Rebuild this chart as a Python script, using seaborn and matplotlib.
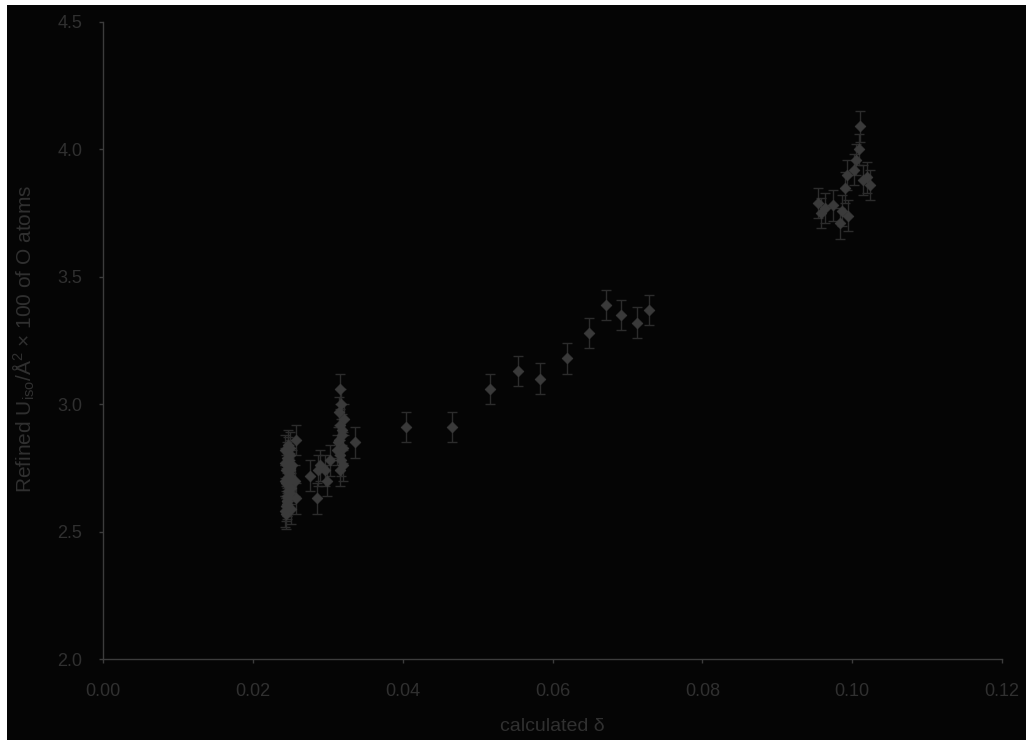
import matplotlib
matplotlib.use("Agg")
import matplotlib.pyplot as plt
import seaborn as sns
import pandas as pd
from matplotlib.patches import Rectangle

# calculated delta and refined U_iso (x100) of O atoms, with standard uncertainties
delta = [
    # dense group near 0.024-0.025
    0.0243, 0.0244, 0.0245, 0.0246, 0.0247, 0.0248, 0.0249, 0.0250, 0.0244, 0.0246,
    0.0248, 0.0250, 0.0243, 0.0245, 0.0247, 0.0249, 0.0251, 0.0244, 0.0246, 0.0248,
    0.0250, 0.0243, 0.0245, 0.0247, 0.0249, 0.0251, 0.0244, 0.0246, 0.0248, 0.0250,
    0.0243, 0.0247, 0.0252, 0.0258, 0.0256, 0.0257,
    # group near 0.027-0.030
    0.0276, 0.0286, 0.0287, 0.0296, 0.0299, 0.0290, 0.0303,
    # group near 0.031-0.034
    0.0316, 0.0318, 0.0315, 0.0317, 0.0319, 0.0314, 0.0320, 0.0316, 0.0318, 0.0321,
    0.0313, 0.0317, 0.0319, 0.0315, 0.0322, 0.0336,
    # intermediate points
    0.0405, 0.0466, 0.0516, 0.0554, 0.0583, 0.0619, 0.0649, 0.0672, 0.0692, 0.0713,
    0.0729,
    # high group near 0.096-0.102
    0.1011, 0.1009, 0.1005, 0.0993, 0.1015, 0.1024, 0.0991, 0.0955, 0.0964, 0.0975,
    0.0959, 0.0986, 0.0995, 0.0984, 0.1020, 0.1003,
]
u_iso = [
    2.58, 2.60, 2.62, 2.64, 2.66, 2.68, 2.70, 2.72, 2.74, 2.76,
    2.78, 2.80, 2.82, 2.61, 2.63, 2.65, 2.67, 2.69, 2.71, 2.73,
    2.75, 2.77, 2.79, 2.81, 2.83, 2.59, 2.57, 2.62, 2.68, 2.74,
    2.70, 2.84, 2.76, 2.86, 2.70, 2.63,
    2.72, 2.63, 2.74, 2.74, 2.70, 2.76, 2.78,
    3.06, 3.00, 2.97, 2.92, 2.88, 2.85, 2.83, 2.80, 2.78, 2.76,
    2.82, 2.74, 2.90, 2.86, 2.94, 2.85,
    2.91, 2.91, 3.06, 3.13, 3.10, 3.18, 3.28, 3.39, 3.35, 3.32,
    3.37,
    4.09, 4.00, 3.96, 3.90, 3.88, 3.86, 3.85, 3.79, 3.77, 3.78,
    3.75, 3.76, 3.74, 3.71, 3.89, 3.92,
]
u_err = [0.06] * len(delta)

x_ticks = [0.00, 0.02, 0.04, 0.06, 0.08, 0.10, 0.12]
y_ticks = [2.0, 2.5, 3.0, 3.5, 4.0, 4.5]

df = pd.DataFrame({"delta": delta, "u_iso": u_iso, "err": u_err})

sns.set_style("white")
plt.rcParams["font.family"] = ["Liberation Sans", "DejaVu Sans"]
plt.rcParams["mathtext.default"] = "regular"

bg = "#050505"
text_col = "#303030"
axis_col = "#3c3c3c"
mark_col = "#3a3a3a"
bar_col = "#2c2c2c"

fig = plt.figure(figsize=(10.26, 7.4), dpi=100, facecolor=bg)
# light strips along the left and top edges of the canvas
fig.patches.append(Rectangle((0, 0), 7 / 1026, 1, transform=fig.transFigure,
                             facecolor="white", edgecolor="none", zorder=-5))
fig.patches.append(Rectangle((0, 1 - 5 / 740), 1, 5 / 740, transform=fig.transFigure,
                             facecolor="white", edgecolor="none", zorder=-5))

ax = fig.add_axes([103 / 1026, 1 - 659 / 740, 899 / 1026, 637 / 740])
ax.set_facecolor(bg)

ax.errorbar(df["delta"], df["u_iso"], yerr=df["err"], fmt="none",
            ecolor=bar_col, elinewidth=1.0, capsize=3.5, capthick=1.0, zorder=2)
sns.scatterplot(data=df, x="delta", y="u_iso", ax=ax, marker="D", s=30,
                color=mark_col, edgecolor=mark_col, linewidth=0.5, zorder=3,
                legend=False)

ax.set_xlim(0, 0.12)
ax.set_ylim(2.0, 4.5)
ax.set_xticks(x_ticks)
ax.set_xticklabels([f"{v:.2f}" for v in x_ticks])
ax.set_yticks(y_ticks)
ax.set_yticklabels([f"{v:.1f}" for v in y_ticks])

for side in ("top", "right"):
    ax.spines[side].set_visible(False)
for side in ("left", "bottom"):
    ax.spines[side].set_color(axis_col)
    ax.spines[side].set_linewidth(1.0)

ax.tick_params(axis="x", direction="out", length=3, width=1, color=axis_col,
               labelcolor=text_col, labelsize=13, pad=14, bottom=True)
ax.tick_params(axis="y", direction="out", length=3, width=1, color=axis_col,
               labelcolor=text_col, labelsize=13, pad=12, left=True)

ax.set_xlabel("calculated δ", color=text_col, fontsize=14)
ax.set_ylabel("Refined U$_{iso}$/Å$^2$ × 100 of O atoms", color=text_col, fontsize=15)
ax.xaxis.set_label_coords(0.5, -0.093)
ax.yaxis.set_label_coords(-0.073, 0.502)

fig.savefig("out.png", dpi=100, facecolor=fig.get_facecolor())
